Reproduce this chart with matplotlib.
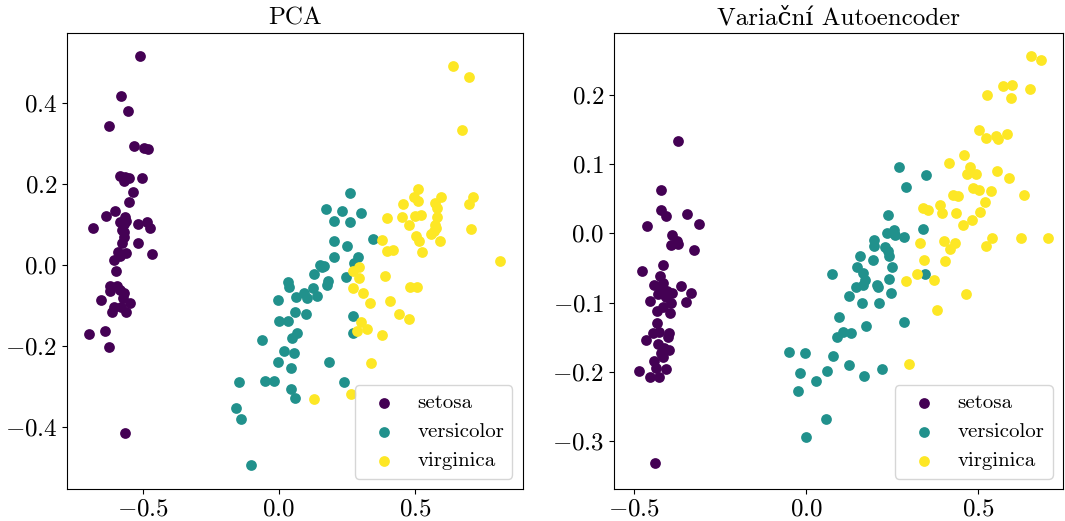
import matplotlib.pyplot as plt
import numpy as np

plt.rcParams['font.family'] = ['cmr10', 'DejaVu Serif']
plt.rcParams['mathtext.fontset'] = 'cm'
plt.rcParams['axes.formatter.use_mathtext'] = True

labels = ['setosa', 'versicolor', 'virginica']
colors = ['#440154', '#21918c', '#fde725']

# PCA projection
pca_setosa_x = [-0.512, -0.582, -0.556, -0.624, -0.534, -0.495, -0.482, -0.583, -0.565, -0.553,
                -0.569, -0.503, -0.536, -0.550, -0.602, -0.637, -0.683, -0.565, -0.583, -0.571,
                -0.561, -0.577, -0.518, -0.485, -0.475, -0.569, -0.569, -0.577, -0.520, -0.592,
                -0.583, -0.561, -0.468, -0.608, -0.598, -0.622, -0.596, -0.620, -0.583, -0.571,
                -0.574, -0.653, -0.547, -0.608, -0.580, -0.613, -0.561, -0.641, -0.697, -0.626,
                -0.565]
pca_setosa_y = [0.514, 0.417, 0.379, 0.343, 0.292, 0.288, 0.286, 0.218, 0.217, 0.214,
                0.206, 0.214, 0.180, 0.154, 0.133, 0.121, 0.090, 0.118, 0.105, 0.102,
                0.108, 0.087, 0.102, 0.105, 0.091, 0.082, 0.070, 0.055, 0.055, 0.033,
                0.022, 0.029, 0.027, 0.011, -0.016, -0.052, -0.052, -0.064, -0.062, -0.068,
                -0.082, -0.086, -0.094, -0.104, -0.104, -0.116, -0.116, -0.162, -0.171, -0.201,
                -0.413]

pca_versicolor_x = [0.263, 0.172, 0.230, 0.301, 0.203, 0.261, 0.201, 0.252, 0.346, 0.201,
                    0.275, 0.151, 0.165, 0.129, 0.246, 0.181, 0.175, 0.033, 0.038, 0.126,
                    0.093, 0.104, 0.139, 0.064, -0.005, 0.060, 0.099, 0.000, 0.034, 0.271,
                    0.271, 0.065, 0.049, -0.062, 0.017, 0.054, -0.002, 0.045, 0.184, -0.146,
                    -0.053, -0.018, 0.043, 0.058, 0.239, -0.157, -0.141, -0.104, 0.160, 0.290]
pca_versicolor_y = [0.178, 0.138, 0.133, 0.127, 0.109, 0.105, 0.060, 0.047, 0.064, 0.020,
                    0.005, 0.000, -0.002, -0.022, -0.030, -0.039, -0.049, -0.042, -0.055, -0.058,
                    -0.070, -0.082, -0.076, -0.080, -0.086, -0.117, -0.121, -0.137, -0.137, -0.127,
                    -0.168, -0.168, -0.179, -0.185, -0.212, -0.218, -0.239, -0.253, -0.238, -0.288,
                    -0.286, -0.287, -0.305, -0.328, -0.289, -0.352, -0.379, -0.493, -0.005, 0.020]

pca_virginica_x = [0.641, 0.699, 0.673, 0.510, 0.495, 0.512, 0.596, 0.574, 0.582, 0.712,
                   0.700, 0.456, 0.396, 0.453, 0.500, 0.521, 0.582, 0.479, 0.575, 0.570,
                   0.577, 0.707, 0.504, 0.515, 0.591, 0.380, 0.397, 0.418, 0.527, 0.813,
                   0.294, 0.273, 0.293, 0.391, 0.273, 0.308, 0.482, 0.507, 0.335, 0.409,
                   0.442, 0.477, 0.301, 0.325, 0.287, 0.380, 0.339, 0.129, 0.264, 0.560]
pca_virginica_y = [0.490, 0.462, 0.333, 0.187, 0.168, 0.158, 0.167, 0.153, 0.140, 0.168,
                   0.151, 0.150, 0.115, 0.117, 0.121, 0.123, 0.119, 0.099, 0.099, 0.084,
                   0.090, 0.088, 0.071, 0.059, 0.059, 0.061, 0.035, 0.037, 0.031, 0.009,
                   -0.006, -0.016, -0.031, -0.027, -0.057, -0.068, -0.054, -0.054, -0.095, -0.088,
                   -0.121, -0.132, -0.140, -0.157, -0.163, -0.172, -0.242, -0.330, -0.318, 0.075]

# Variational autoencoder latent space
vae_setosa_x = [-0.370, -0.421, -0.420, -0.405, -0.345, -0.462, -0.310, -0.389, -0.393, -0.373,
                -0.370, -0.325, -0.414, -0.476, -0.423, -0.440, -0.414, -0.423, -0.363, -0.428,
                -0.414, -0.389, -0.403, -0.335, -0.453, -0.393, -0.414, -0.433, -0.394, -0.348,
                -0.431, -0.443, -0.425, -0.397, -0.463, -0.412, -0.396, -0.420, -0.415, -0.440,
                -0.485, -0.436, -0.407, -0.452, -0.426, -0.438, -0.418, -0.405, -0.430, -0.400]
vae_setosa_y = [0.134, 0.063, 0.034, 0.025, 0.028, 0.010, 0.014, -0.003, -0.017, -0.011,
                -0.016, -0.024, -0.046, -0.055, -0.061, -0.074, -0.072, -0.076, -0.076, -0.087,
                -0.088, -0.086, -0.083, -0.086, -0.097, -0.100, -0.106, -0.112, -0.115, -0.099,
                -0.130, -0.144, -0.142, -0.144, -0.154, -0.165, -0.169, -0.173, -0.179, -0.184,
                -0.198, -0.195, -0.196, -0.208, -0.207, -0.331, -0.080, -0.092, -0.160, -0.150]

vae_versicolor_x = [0.270, 0.348, 0.291, 0.238, 0.236, 0.255, 0.258, 0.285, 0.338, 0.198,
                    0.196, 0.237, 0.240, 0.155, 0.195, 0.149, 0.164, 0.250, 0.076, 0.344,
                    0.171, 0.164, 0.145, 0.241, 0.205, 0.210, 0.124, 0.247, 0.163, 0.212,
                    0.095, 0.175, 0.284, 0.107, 0.089, 0.130, -0.049, -0.002, 0.077, 0.125,
                    -0.019, 0.061, 0.168, 0.219, 0.029, -0.023, 0.058, 0.000, 0.230]
vae_versicolor_y = [0.096, 0.084, 0.067, 0.026, 0.000, 0.005, -0.002, -0.005, 0.006, -0.010,
                    -0.018, -0.025, -0.033, -0.033, -0.039, -0.049, -0.057, -0.048, -0.059, -0.059,
                    -0.067, -0.074, -0.078, -0.066, -0.075, -0.078, -0.090, -0.086, -0.100, -0.100,
                    -0.121, -0.133, -0.128, -0.143, -0.149, -0.144, -0.171, -0.173, -0.177, -0.190,
                    -0.202, -0.198, -0.206, -0.196, -0.213, -0.227, -0.268, -0.294, -0.020]

vae_virginica_x = [0.651, 0.682, 0.571, 0.597, 0.648, 0.526, 0.594, 0.501, 0.523, 0.551,
                   0.556, 0.583, 0.458, 0.415, 0.475, 0.467, 0.493, 0.553, 0.589, 0.483,
                   0.501, 0.537, 0.633, 0.425, 0.441, 0.520, 0.388, 0.340, 0.355, 0.395,
                   0.436, 0.503, 0.454, 0.330, 0.401, 0.432, 0.418, 0.538, 0.521, 0.624,
                   0.702, 0.342, 0.402, 0.322, 0.290, 0.370, 0.465, 0.381, 0.299, 0.480]
vae_virginica_y = [0.256, 0.250, 0.213, 0.214, 0.208, 0.200, 0.196, 0.149, 0.138, 0.140,
                   0.136, 0.143, 0.113, 0.101, 0.096, 0.086, 0.085, 0.090, 0.080, 0.066,
                   0.062, 0.061, 0.055, 0.056, 0.054, 0.045, 0.041, 0.036, 0.034, 0.030,
                   0.030, 0.031, 0.012, -0.014, -0.011, -0.014, -0.023, -0.006, -0.018, -0.006,
                   -0.006, -0.039, -0.040, -0.058, -0.069, -0.068, -0.087, -0.110, -0.188, 0.020]

pca_data = [(pca_setosa_x, pca_setosa_y), (pca_versicolor_x, pca_versicolor_y),
            (pca_virginica_x, pca_virginica_y)]
vae_data = [(vae_setosa_x, vae_setosa_y), (vae_versicolor_x, vae_versicolor_y),
            (vae_virginica_x, vae_virginica_y)]


def draw_panel(ax, data, title, xlim, ylim, yticks):
    for (xs, ys), label, color in zip(data, labels, colors):
        ax.scatter(xs, ys, s=60, color=color, label=label, linewidths=0)
    ax.set_title(title, fontsize=18)
    ax.set_xlim(*xlim)
    ax.set_ylim(*ylim)
    ax.set_xticks([-0.5, 0.0, 0.5])
    ax.set_yticks(yticks)
    ax.tick_params(labelsize=18)
    ax.legend(loc='lower right', fontsize=15, handletextpad=0.6)


fig = plt.figure(figsize=(10.65, 5.21), dpi=100)
ax1 = fig.add_axes([0.063, 0.0614, 0.428, 0.875])
ax2 = fig.add_axes([0.5765, 0.0614, 0.4216, 0.875])

draw_panel(ax1, pca_data, 'PCA', (-0.779, 0.897), (-0.552, 0.571),
           [-0.4, -0.2, 0.0, 0.2, 0.4])
draw_panel(ax2, vae_data, 'Variační Autoencoder', (-0.557, 0.745), (-0.369, 0.289),
           [-0.3, -0.2, -0.1, 0.0, 0.1, 0.2])

fig.savefig('out.png', dpi=100)
